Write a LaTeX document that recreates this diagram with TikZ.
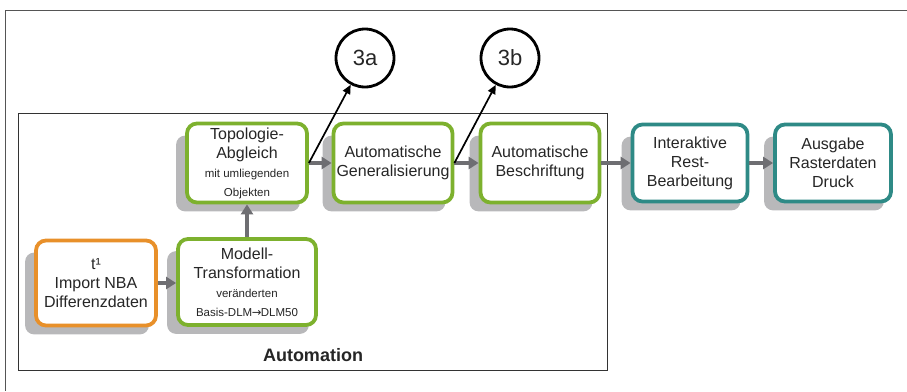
\documentclass[tikz,border=0pt]{standalone}
\usepackage{fontspec}
\setmainfont{Liberation Sans}
\newfontfamily\symfont{DejaVu Sans}
\usetikzlibrary{arrows.meta,calc,backgrounds}
\definecolor{cOrange}{HTML}{E8902A}
\definecolor{cGreen}{HTML}{7DB12E}
\definecolor{cTeal}{HTML}{2E8A86}
\definecolor{cShadow}{HTML}{B8B8BA}
\definecolor{cArrow}{HTML}{6E6E72}
\definecolor{cText}{HTML}{262626}
\definecolor{cFrame}{HTML}{555555}
\newcommand{\sm}[1]{{\fontsize{11.5}{14.5}\selectfont #1}}
\begin{document}
\begin{tikzpicture}[x=1pt,y=-1pt,
  procbox/.style={draw, line width=3.8pt, rounded corners=10pt, fill=white,
    align=center, text=cText, inner sep=2pt,
    font=\fontsize{16}{19}\selectfont},
  shad/.style={fill=cShadow, rounded corners=9pt},
  garrow/.style={draw=cArrow, line width=3.4pt, -{Triangle[length=10pt,width=12pt]}, fill=cArrow},
  barrow/.style={draw=black, line width=1.7pt, -{Triangle[length=9pt,width=8pt]}},
  circ/.style={draw=black, circle, line width=2.8pt, minimum size=58pt, inner sep=0pt,
    font=\fontsize{22}{24}\selectfont, text=cText}
]
\useasboundingbox (0,0) rectangle (907,391);
% outer frame
\draw[cFrame, line width=1pt] (907,10) -- (5,10) -- (5,391);
% automation frame
\draw[black!80, line width=1pt] (18,113) rectangle (607,370);
\node[font=\bfseries\fontsize{18}{20}\selectfont, text=cText] (autolab) at (313,355) {Automation};

% boxes
\node[procbox, draw=cOrange, minimum width=120pt, minimum height=85pt] (imp) at (96,283)
  {t¹\\Import NBA\\Differenzdaten};
\node[procbox, draw=cGreen, minimum width=138pt, minimum height=86pt] (mod) at (247,282)
  {Modell-\\Transformation\\\sm{veränderten}\\\sm{Basis-DLM{\symfont\kern-0.5pt→\kern-0.5pt}DLM50}};
\node[procbox, draw=cGreen, minimum width=120pt, minimum height=79pt] (topo) at (247,163)
  {Topologie-\\Abgleich\\\sm{mit umliegenden}\\\sm{Objekten}};
\node[procbox, draw=cGreen, minimum width=119pt, minimum height=79pt] (gen) at (393,163)
  {Automatische\\Generalisierung};
\node[procbox, draw=cGreen, minimum width=119pt, minimum height=79pt] (bes) at (540,163)
  {Automatische\\Beschriftung};
\node[procbox, draw=cTeal, minimum width=115pt, minimum height=77pt] (int) at (690,163)
  {Interaktive\\Rest-\\Bearbeitung};
\node[procbox, draw=cTeal, minimum width=116pt, minimum height=77pt] (aus) at (833,163)
  {Ausgabe\\Rasterdaten\\Druck};

% shadows
\begin{scope}[on background layer]
\foreach \n in {imp,mod,topo,gen,bes,int,aus}{
  \fill[shad] ($(\n.south west)+(-9,7)$) rectangle ($(\n.north east)+(-9,14)$);
}
\end{scope}

% circles
\node[circ] (c3a) at (365,58) {3a};
\node[circ] (c3b) at (510,58) {3b};

% gray arrows
\draw[garrow] (imp.east) -- (mod.west |- imp.east);
\draw[garrow] (mod.north) -- (topo.south);
\draw[garrow] (topo.east) -- (gen.west);
\draw[garrow] (gen.east) -- (bes.west);
\draw[garrow] (bes.east) -- (int.west);
\draw[garrow] (int.east) -- (aus.west);

% black arrows
\draw[barrow] (topo.east) -- (c3a);
\draw[barrow] (gen.east) -- (c3b);
\end{tikzpicture}
\end{document}
